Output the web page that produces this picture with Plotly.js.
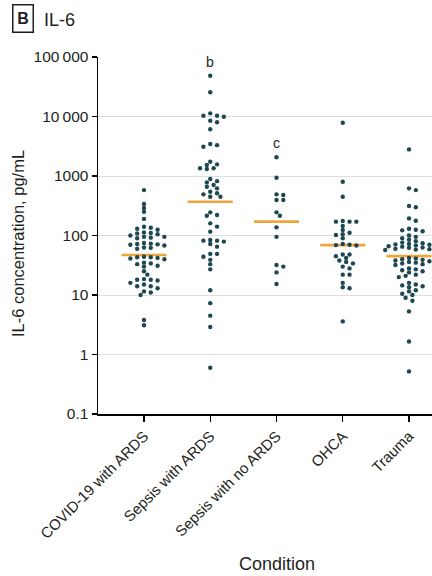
<!DOCTYPE html>
<html>
<head>
<meta charset="utf-8">
<script src="https://cdn.plot.ly/plotly-3.0.1.min.js"></script>
<style>html,body{margin:0;padding:0;background:#fff;}#chart{width:432px;height:576px;}</style>
</head>
<body>
<div id="chart"></div>
<script>
// ---- data ----
const categories = ['COVID-19 with ARDS', 'Sepsis with ARDS', 'Sepsis with no ARDS', 'OHCA', 'Trauma'];
const covid = [580, 340, 290, 250, 190, 140, 125, 135, 130, 110, 108, 112, 100, 105, 95, 92, 90, 95,
  72, 70, 75, 73, 71, 68, 62, 60, 63, 43, 42, 44, 41, 40, 43, 35, 33, 34, 30, 31, 25, 22,
  18, 17.5, 18, 18.5, 16, 15, 14, 13, 14, 11.5, 11, 10, 3.8, 3.1];
const sepsisArds = [48500, 25500, 11300, 10300, 10300, 9900, 8500, 8000, 6100, 3450, 3300, 3100,
  1740, 1570, 1530, 1350, 1350, 1310, 890, 820, 780, 705, 660, 620, 545, 512, 492, 449, 449,
  245, 221, 215, 160, 141, 116, 84, 82, 82, 79, 72, 65, 49, 49, 44, 39, 33, 27, 12, 7.3, 4.5, 2.9, 0.6];
const sepsisNoArds = [2060, 935, 492, 480, 395, 395, 245, 215, 137, 95, 32, 30, 24, 15.3];
const ohca = [7870, 800, 449, 175, 171, 171, 171, 145, 124, 111, 105, 102, 90, 72, 70, 69, 68,
  48, 48, 45, 42, 38, 36, 34, 30, 28, 22, 22, 16, 13.5, 13, 3.6];
const trauma = [2800, 620, 580, 313, 298, 194, 177, 130, 125, 122, 118, 100, 95, 90, 85, 80,
  76, 74, 72, 71, 70, 68, 66, 65, 63, 62, 60, 59, 58, 57, 42, 41, 40, 39, 38, 37, 36, 35, 34, 33, 32,
  28, 27, 26, 25, 24, 22, 21, 20, 16, 15, 14.5, 14, 13.5, 12, 11.5, 10.5, 10, 9, 8, 5.3, 1.65, 0.52];
const medians = [47, 370, 171, 69, 45];
const significance = ['', 'b', 'c', '', ''];
const yTickVals = [0.1, 1, 10, 100, 1000, 10000, 100000];
const yTickText = ['0.1', '1', '10', '100', '1000', '10\u2009000', '100\u2009000'];

const groups = [covid, sepsisArds, sepsisNoArds, ohca, trauma];

// ---- layout constants ----
const W = 432, H = 576;
const M = {l: 98, r: 0, t: 57, b: 162};
const xRange = [-0.694, 4.347];
const yRange = [-1, 5];
const plotW = W - M.l - M.r, plotH = H - M.t - M.b;
const pxPerX = plotW / (xRange[1] - xRange[0]);
const pxPerDecade = plotH / (yRange[1] - yRange[0]);

const FONT = 'Liberation Sans, Arial, sans-serif';
const TXT = '#231f20';
const DOT = '#1d4852';
const MED = '#f0a53a';

// beeswarm placement computed from the values
function swarm(values, idx) {
  const pts = values.map(v => ({v: v, py: Math.log10(v) * pxPerDecade}));
  pts.sort((a, b) => b.py - a.py);
  const placed = [];
  const step = 3.4, dxMin = 6.8, dyMin = 3.8;
  const cands = [0];
  for (let k = 1; k < 40; k++) { cands.push(k * step, -k * step); }
  pts.forEach(p => {
    for (const ox of cands) {
      let ok = true;
      for (const q of placed) {
        const a = (ox - q.ox) / dxMin, b = (p.py - q.py) / dyMin;
        if (a * a + b * b < 1) { ok = false; break; }
      }
      if (ok) { p.ox = ox; placed.push(p); break; }
    }
  });
  return {x: placed.map(p => idx + p.ox / pxPerX), y: placed.map(p => p.v)};
}

const traces = [];
medians.forEach((m, i) => {
  traces.push({
    type: 'scatter', mode: 'lines', x: [i - 0.34, i + 0.34], y: [m, m],
    line: {color: MED, width: 2.6}, hoverinfo: 'skip', showlegend: false
  });
});
groups.forEach((g, i) => {
  const s = swarm(g, i);
  traces.push({
    type: 'scatter', mode: 'markers', x: s.x, y: s.y, name: categories[i],
    marker: {color: DOT, size: 4.4, line: {width: 0}}, showlegend: false
  });
});

const annotations = [
  {xref: 'paper', yref: 'paper', x: (23 - M.l) / plotW, y: (H - M.b - 18.5) / plotH,
   xanchor: 'center', yanchor: 'middle', text: '<b>B</b>', showarrow: false,
   font: {family: FONT, size: 16, color: TXT}, bordercolor: TXT, borderwidth: 1.5,
   borderpad: 2, width: 15, height: 22},
  {xref: 'paper', yref: 'paper', x: (42 - M.l) / plotW, y: (H - M.b - 20) / plotH,
   xanchor: 'left', yanchor: 'middle', text: 'IL-6', showarrow: false,
   font: {family: FONT, size: 18, color: TXT}},
  {xref: 'paper', yref: 'paper', x: (277 - M.l) / plotW, y: (H - M.b - 564) / plotH,
   xanchor: 'center', yanchor: 'middle', text: 'Condition', showarrow: false,
   font: {family: FONT, size: 18, color: TXT}},
  {xref: 'paper', yref: 'paper', x: (18 - M.l) / plotW, y: (H - M.b - 244) / plotH,
   xanchor: 'center', yanchor: 'middle', text: 'IL-6 concentration, pg/mL', textangle: -90,
   showarrow: false, font: {family: FONT, size: 16.5, color: TXT}}
];
significance.forEach((s, i) => {
  if (!s) return;
  const top = Math.max.apply(null, groups[i]);
  annotations.push({xref: 'x', yref: 'y', x: i, y: Math.log10(top), yanchor: 'bottom', yshift: 4,
    text: s, showarrow: false, font: {family: FONT, size: 14, color: TXT}});
});

const layout = {
  width: W, height: H, margin: M,
  paper_bgcolor: '#fff', plot_bgcolor: '#fff',
  font: {family: FONT, color: TXT},
  showlegend: false,
  xaxis: {
    range: xRange, tickvals: [0, 1, 2, 3, 4], ticktext: categories, tickangle: -45,
    ticks: 'outside', ticklen: 6, tickwidth: 1.3, tickcolor: '#000',
    showline: true, linecolor: '#000', linewidth: 1.5,
    showgrid: false, zeroline: false, tickfont: {family: FONT, size: 15, color: TXT}
  },
  yaxis: {
    type: 'log', range: yRange, tickvals: yTickVals, ticktext: yTickText,
    ticks: 'outside', ticklen: 5, tickwidth: 1.3, tickcolor: '#000',
    showline: true, linecolor: '#000', linewidth: 1.5,
    showgrid: true, gridcolor: '#dedede', gridwidth: 1, zeroline: false,
    tickfont: {family: FONT, size: 15.5, color: TXT}
  },
  annotations: annotations
};

Plotly.newPlot('chart', traces, layout, {staticPlot: true, displayModeBar: false});
</script>
</body>
</html>
